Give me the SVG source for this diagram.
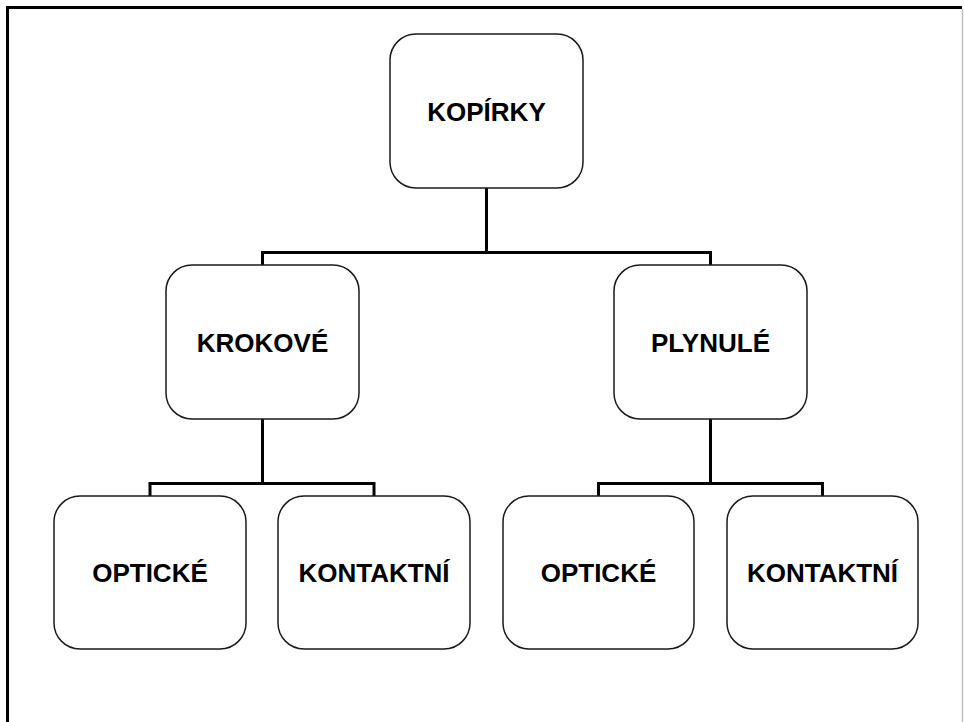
<svg xmlns="http://www.w3.org/2000/svg" width="964" height="722" viewBox="0 0 964 722">
<style>
.box{fill:#fff;stroke:#1a1a1a;stroke-width:1.5}
.lbl{font-family:"Liberation Sans",Arial,sans-serif;font-weight:bold;font-size:26px;fill:#000;text-anchor:middle}
.con{fill:none;stroke:#000;stroke-width:3}
</style>
<rect x="0" y="0" width="964" height="722" fill="#fff"/>
<path d="M7.5 722 V7.5 H962" fill="none" stroke="#000" stroke-width="3"/>
<line x1="962.5" y1="9" x2="962.5" y2="722" stroke="#c0c0c0" stroke-width="1.5"/>
<g id="connectors">
<path class="con" d="M486.5 188 V252.5 M262.5 252.5 H710.5 M262.5 251 V265 M710.5 251 V265"/>
<path class="con" d="M262.5 419 V483.5 M150 483.5 H374 M150 482 V496 M374 482 V496"/>
<path class="con" d="M710.5 419 V483.5 M598.5 483.5 H822.5 M598.5 482 V496 M822.5 482 V496"/>
</g>
<g id="kopirky"><rect class="box" x="390" y="34" width="193" height="154" rx="26"/><text class="lbl" x="486.5" y="120.5">KOPÍRKY</text></g>
<g id="krokove"><rect class="box" x="166" y="265" width="193" height="154" rx="26"/><text class="lbl" x="262.5" y="351.5">KROKOVÉ</text></g>
<g id="plynule"><rect class="box" x="614" y="265" width="193" height="154" rx="26"/><text class="lbl" x="710.5" y="351.5">PLYNULÉ</text></g>
<g id="opticke1"><rect class="box" x="54" y="496" width="192" height="153" rx="26"/><text class="lbl" x="150" y="581.5">OPTICKÉ</text></g>
<g id="kontaktni1"><rect class="box" x="278" y="496" width="192" height="153" rx="26"/><text class="lbl" x="374" y="581.5">KONTAKTNÍ</text></g>
<g id="opticke2"><rect class="box" x="503" y="496" width="191" height="153" rx="26"/><text class="lbl" x="598.5" y="581.5">OPTICKÉ</text></g>
<g id="kontaktni2"><rect class="box" x="727" y="496" width="191" height="153" rx="26"/><text class="lbl" x="822.5" y="581.5">KONTAKTNÍ</text></g>
</svg>
